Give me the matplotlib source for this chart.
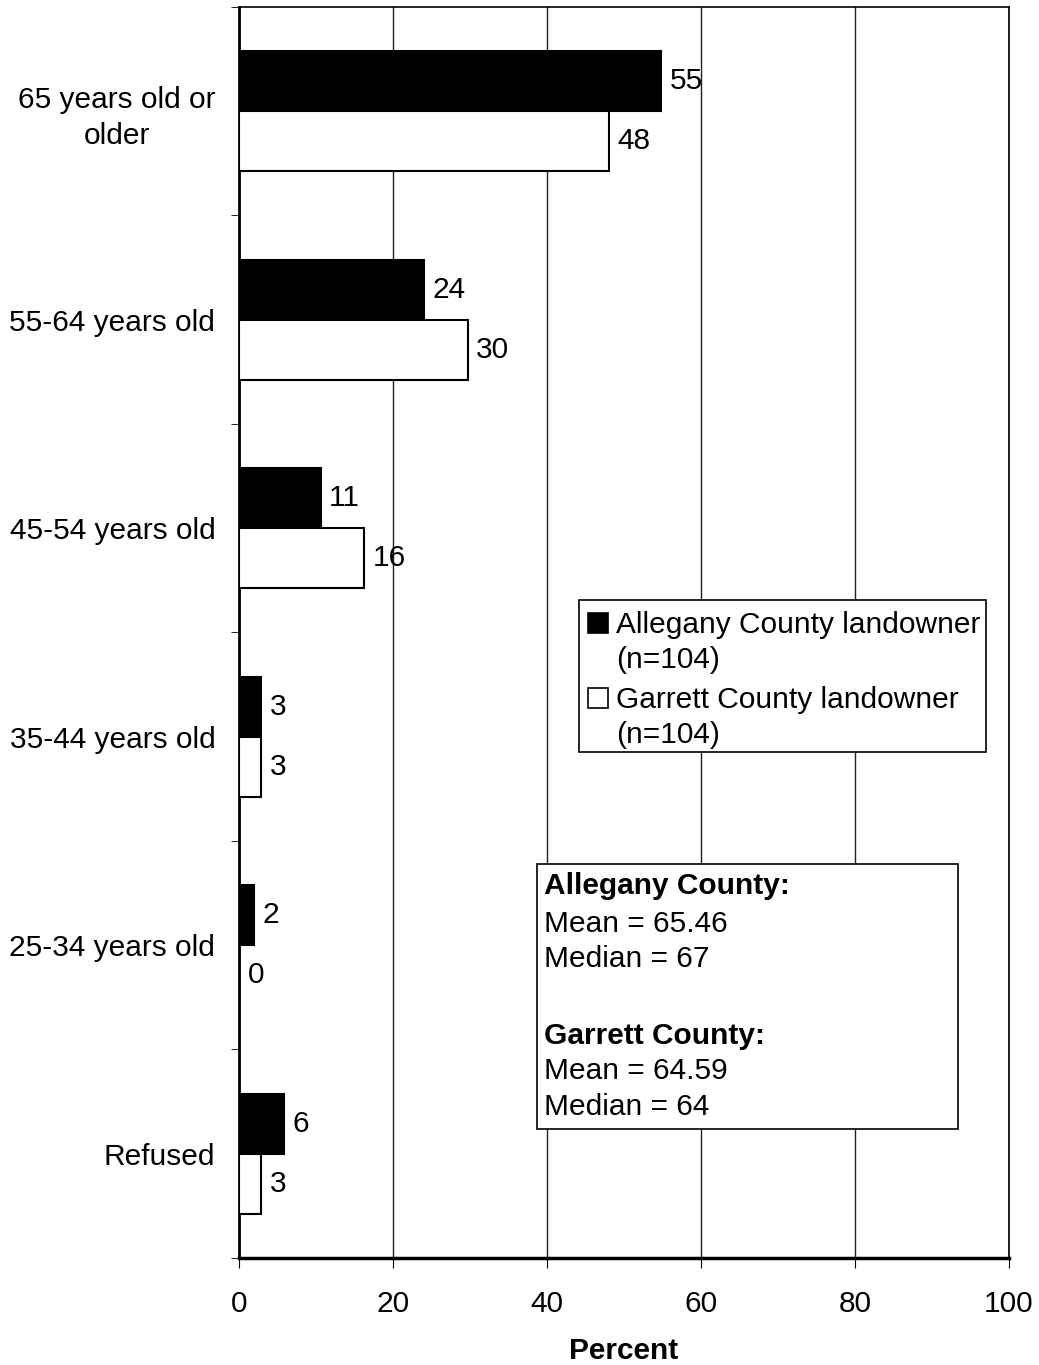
import matplotlib.pyplot as plt
import numpy as np

plt.rcParams['font.family'] = ['Liberation Sans', 'DejaVu Sans']

# Daten
categories = ['65 years old or\nolder', '55-64 years old', '45-54 years old',
              '35-44 years old', '25-34 years old', 'Refused']
allegany = [54.8, 24.0, 10.6, 2.9, 1.9, 5.8]
garrett = [48.1, 29.7, 16.3, 2.9, 0.0, 2.9]
allegany_labels = ['55', '24', '11', '3', '2', '6']
garrett_labels = ['48', '30', '16', '3', '0', '3']
series_names = [['Allegany County landowner', '(n=104)'],
                ['Garrett County landowner', '(n=104)']]
stats_lines = ['Allegany County:', 'Mean = 65.46', 'Median = 67',
               'Garrett County:', 'Mean = 64.59', 'Median = 64']

fs = 21.5

fig = plt.figure(figsize=(10.39, 13.65), dpi=100)
ax = fig.add_axes([0.230, 0.0784, 0.741, 0.9165])

y = np.arange(len(categories))
h = 0.288
ax.barh(y - h / 2, allegany, height=h, color='black', edgecolor='black',
        linewidth=1.5, zorder=3)
ax.barh(y + h / 2, garrett, height=h, color='white', edgecolor='black',
        linewidth=1.5, zorder=3)

for i in range(len(categories)):
    ax.text(allegany[i] + 1.1, y[i] - h / 2, allegany_labels[i], va='center',
            ha='left', fontsize=fs, zorder=4)
    ax.text(garrett[i] + 1.1, y[i] + h / 2, garrett_labels[i], va='center',
            ha='left', fontsize=fs, zorder=4)

ax.set_xlim(0, 100)
ax.set_ylim(len(categories) - 0.5, -0.5)
ax.set_xticks(np.arange(0, 101, 20))
ax.tick_params(axis='x', labelsize=fs, length=7, pad=16, direction='out')
ax.set_yticks(y)
ax.set_yticklabels(categories, fontsize=fs, multialignment='center',
                   linespacing=1.36)
ax.tick_params(axis='y', length=0, pad=17)
ax.set_yticks(np.arange(-0.5, len(categories), 1), minor=True)
ax.tick_params(axis='y', which='minor', length=6, direction='out')
ax.grid(axis='x', color='#222222', linewidth=1, zorder=0)
for s in ax.spines.values():
    s.set_linewidth(1.2)
ax.spines['left'].set_linewidth(2)
ax.spines['bottom'].set_linewidth(2.5)
ax.set_xlabel('Percent', fontsize=fs, fontweight='bold', labelpad=14)

# Pixel -> Achsenkoordinaten
def fx(px):
    return (px - 239) / 770

def fy(py):
    return (1258 - py) / 1251

def box(x0, y0, x1, y1, fc, lw=1.2, z=4.5):
    r = plt.Rectangle((fx(x0), fy(y1)), fx(x1) - fx(x0), fy(y0) - fy(y1),
                      transform=ax.transAxes, facecolor=fc, edgecolor='black',
                      linewidth=lw, zorder=z)
    ax.add_patch(r)

def line(px, py, txt, bold=False):
    ax.text(fx(px), fy(py + 3), txt, transform=ax.transAxes, fontsize=fs,
            fontweight='bold' if bold else 'normal', va='center', ha='left',
            zorder=5)

# Legende
box(579, 600, 986, 752, 'white')
box(588, 613, 608, 633, 'black', z=5)
box(588, 688, 608, 708, 'white', z=5)
for name, py in zip(series_names, [622, 697]):
    line(616, py, name[0])
    line(616, py + 35, name[1])

# Statistik-Box
box(537, 864, 958, 1129, 'white')
line_y = [883, 921, 956, 1033, 1068, 1104]
for txt, py in zip(stats_lines, line_y):
    line(544, py, txt, bold=txt.endswith(':'))

plt.savefig('out.png', dpi=100)
